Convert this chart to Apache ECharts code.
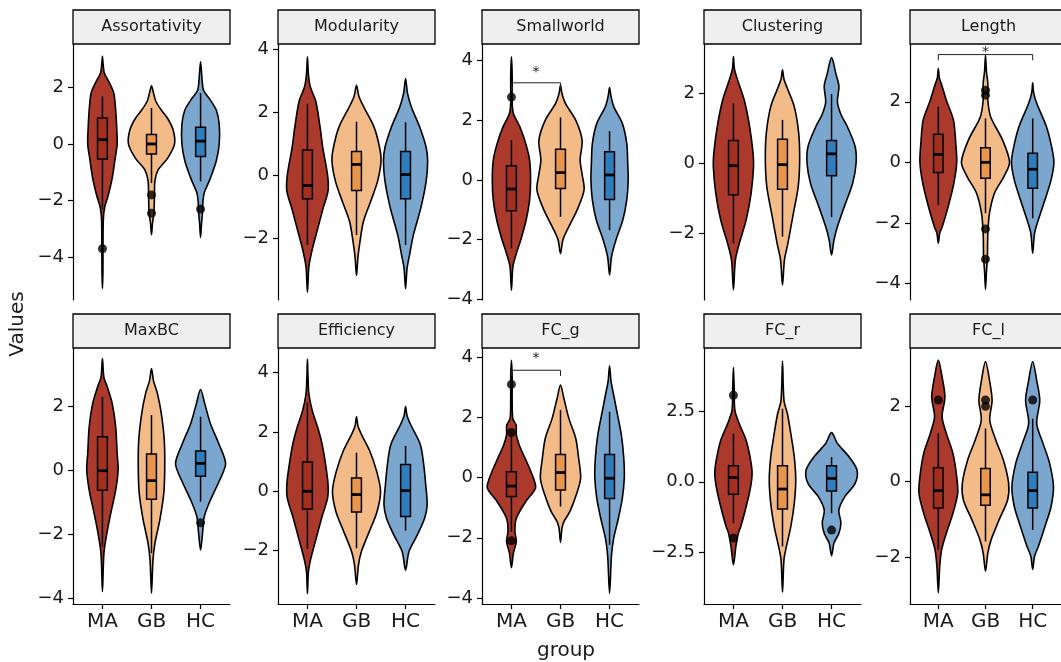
<!DOCTYPE html>
<html><head><meta charset="utf-8">
<script src="https://cdn.jsdelivr.net/npm/echarts@6/dist/echarts.min.js"></script>
<style>html,body{margin:0;padding:0;background:#fff}#c{width:1061px;height:662px}</style>
</head><body><div id="c"></div>
<script>
// ---------------- DATA ----------------
const facets = ['Assortativity','Modularity','Smallworld','Clustering','Length','MaxBC','Efficiency','FC_g','FC_r','FC_l'];
const groups = ['MA','GB','HC'];
const yMin = [-5.51,-3.97,-4.02,-3.91,-4.55,-4.19,-3.80,-4.20,-4.35,-3.25];
const yMax = [3.53,4.17,4.56,3.41,3.91,3.82,4.83,4.31,4.76,3.55];
const yTicks = [[-4,-2,0,2],[-4,-2,0,2,4],[-4,-2,0,2,4],[-2,0,2],[-4,-2,0,2],[-4,-2,0,2],[-2,0,2,4],[-4,-2,0,2,4],[-2.5,0,2.5],[-2,0,2]];
const yTickDecimals = [0,0,0,0,0,0,0,0,1,0];
const xLabel = 'group', yLabel = 'Values';

// violin outlines: per group [value, half-width] from bottom to top
const violinAssortativity = [
  [[-5.1,0],[-4.5,0.01],[-3.5,0.012],[-2.6,0.02],[-2.2,0.05],[-1.8,0.12],[-1.2,0.2],[-0.5,0.26],[0,0.3],[0.6,0.29],[1.2,0.27],[1.8,0.23],[2.2,0.13],[2.5,0.04],[2.8,0.015],[3.1,0]],
  [[-3.2,0],[-2.8,0.02],[-2.4,0.05],[-1.8,0.06],[-1.3,0.07],[-0.9,0.14],[-0.5,0.33],[0,0.47],[0.5,0.44],[0.9,0.33],[1.2,0.2],[1.5,0.09],[1.8,0.04],[2.05,0]],
  [[-3.3,0],[-2.8,0.02],[-2.4,0.04],[-2.0,0.05],[-1.7,0.08],[-1.25,0.19],[-0.6,0.32],[0,0.38],[0.7,0.38],[1.2,0.32],[1.6,0.18],[1.9,0.06],[2.3,0.03],[2.9,0]]
];
const violinModularity = [
  [[-3.72,0],[-3.3,0.015],[-2.9,0.03],[-2.35,0.1],[-1.7,0.21],[-1.05,0.32],[-0.5,0.42],[0,0.41],[0.9,0.31],[1.5,0.26],[2.35,0.17],[2.8,0.06],[3.2,0.02],[3.76,0]],
  [[-3.19,0],[-2.6,0.03],[-2.12,0.07],[-1.48,0.14],[-0.83,0.29],[-0.19,0.43],[0.45,0.5],[0.88,0.47],[1.52,0.36],[2.16,0.15],[2.5,0.05],[2.86,0]],
  [[-3.61,0],[-2.97,0.03],[-2.55,0.08],[-1.9,0.16],[-1.05,0.31],[-0.19,0.42],[0.45,0.45],[0.88,0.42],[1.52,0.29],[2.16,0.12],[2.6,0.04],[3.07,0]]
];
const violinSmallworld = [
  [[-3.69,0],[-2.9,0.03],[-2.46,0.1],[-2.01,0.19],[-1.34,0.3],[-0.67,0.37],[0,0.39],[0.67,0.37],[1.23,0.29],[1.79,0.17],[2.23,0.04],[2.6,0.015],[3.5,0.015],[4.13,0]],
  [[-2.46,0],[-2.0,0.05],[-1.56,0.17],[-1.0,0.34],[-0.34,0.48],[0.2,0.44],[0.67,0.4],[1.34,0.44],[2.01,0.31],[2.57,0.1],[2.9,0.03],[3.18,0]],
  [[-3.18,0],[-2.57,0.04],[-2.01,0.13],[-1.34,0.27],[-0.67,0.35],[0,0.38],[0.56,0.37],[1.23,0.35],[1.9,0.26],[2.46,0.085],[2.8,0.03],[3.1,0]]
];
const violinClustering = [
  [[-3.62,0],[-2.76,0.04],[-2.29,0.12],[-1.62,0.26],[-0.86,0.36],[-0.1,0.41],[0.29,0.4],[1.05,0.33],[1.81,0.22],[2.38,0.085],[2.7,0.02],[3.05,0]],
  [[-3.48,0],[-2.76,0.04],[-2.29,0.11],[-1.52,0.21],[-0.67,0.32],[0.1,0.35],[0.86,0.33],[1.62,0.24],[2.14,0.1],[2.4,0.03],[2.67,0]],
  [[-2.62,0],[-2.19,0.05],[-1.81,0.12],[-1.24,0.26],[-0.57,0.43],[0,0.5],[0.48,0.48],[1.05,0.32],[1.4,0.19],[1.75,0.12],[2.2,0.15],[2.55,0.09],[3.02,0]]
];
const violinLength = [
  [[-2.67,0],[-2.34,0.03],[-2.12,0.085],[-1.46,0.21],[-0.69,0.33],[0,0.39],[0.63,0.37],[1.4,0.32],[2.05,0.17],[2.49,0.085],[2.8,0.02],[3.1,0]],
  [[-4.2,0],[-3.6,0.02],[-3.16,0.04],[-2.34,0.05],[-1.68,0.085],[-1.02,0.19],[-0.47,0.39],[0,0.51],[0.74,0.36],[1.5,0.11],[2.05,0.05],[2.6,0.05],[3.0,0.02],[3.54,0]],
  [[-3.0,0],[-2.34,0.04],[-1.9,0.12],[-1.24,0.26],[-0.58,0.39],[0,0.45],[0.52,0.4],[1.18,0.29],[1.95,0.085],[2.3,0.02],[2.63,0]]
];
const violinMaxBC = [
  [[-3.8,0],[-2.6,0.03],[-1.98,0.09],[-1.35,0.17],[-0.63,0.27],[0,0.32],[0.52,0.3],[1.35,0.27],[2.08,0.2],[2.6,0.1],[2.9,0.03],[3.49,0]],
  [[-3.85,0],[-2.81,0.03],[-2.29,0.07],[-1.56,0.17],[-0.73,0.25],[0.1,0.27],[0.94,0.26],[1.77,0.2],[2.4,0.12],[2.8,0.04],[3.18,0]],
  [[-2.5,0],[-1.98,0.04],[-1.46,0.075],[-0.94,0.2],[-0.31,0.39],[0.21,0.51],[0.83,0.37],[1.46,0.2],[2.08,0.085],[2.52,0]]
];
const violinEfficiency = [
  [[-3.45,0],[-2.71,0.02],[-2.26,0.07],[-1.58,0.18],[-0.9,0.29],[-0.23,0.41],[0.23,0.42],[0.9,0.37],[1.58,0.3],[2.15,0.21],[2.71,0.1],[3.28,0.03],[3.9,0.01],[4.46,0]],
  [[-3.14,0],[-2.49,0.04],[-2.03,0.1],[-1.36,0.26],[-0.68,0.42],[0,0.49],[0.68,0.41],[1.36,0.27],[1.92,0.1],[2.2,0.03],[2.51,0]],
  [[-2.66,0],[-2.03,0.07],[-1.47,0.24],[-0.9,0.39],[-0.45,0.44],[0.23,0.41],[0.9,0.37],[1.58,0.3],[2.26,0.1],[2.55,0.03],[2.86,0]]
];
const violinFC_g = [
  [[-2.99,0],[-2.51,0.04],[-2.12,0.1],[-1.79,0.07],[-1.35,0.1],[-0.8,0.29],[-0.35,0.49],[-0.02,0.45],[0.53,0.31],[1.08,0.16],[1.42,0.1],[1.75,0.095],[1.95,0.03],[2.5,0.015],[3.3,0.015],[3.9,0]],
  [[-2.15,0],[-1.68,0.03],[-1.46,0.07],[-1.13,0.19],[-0.58,0.32],[-0.02,0.41],[0.64,0.37],[1.31,0.31],[1.97,0.17],[2.63,0.07],[3.08,0]],
  [[-3.84,0],[-2.57,0.04],[-2.01,0.085],[-1.35,0.18],[-0.69,0.26],[-0.02,0.3],[0.64,0.29],[1.42,0.24],[2.19,0.15],[2.74,0.085],[3.2,0.03],[3.72,0]]
];
const violinFC_r = [
  [[-2.95,0],[-2.3,0.05],[-1.83,0.1],[-1.59,0.15],[-0.88,0.26],[-0.18,0.35],[0.29,0.38],[0.77,0.35],[1.47,0.26],[2.06,0.12],[2.54,0.03],[3.3,0.015],[4.07,0]],
  [[-3.93,0],[-2.77,0.03],[-2.3,0.08],[-1.59,0.17],[-0.77,0.24],[0.06,0.27],[0.88,0.24],[1.71,0.17],[2.42,0.1],[2.89,0.03],[4.3,0]],
  [[-2.63,0],[-2.18,0.05],[-1.83,0.15],[-1.47,0.19],[-1.0,0.15],[-0.53,0.27],[-0.06,0.48],[0.41,0.52],[0.88,0.36],[1.36,0.12],[1.75,0]]
];
const violinFC_l = [
  [[-2.95,0],[-2.25,0.03],[-1.81,0.07],[-1.37,0.17],[-0.84,0.31],[-0.31,0.41],[0.13,0.39],[0.75,0.31],[1.28,0.17],[1.72,0.08],[2.25,0.14],[2.78,0.08],[3.23,0]],
  [[-2.38,0],[-1.89,0.05],[-1.54,0.12],[-1.01,0.29],[-0.48,0.47],[-0.04,0.49],[0.57,0.38],[1.1,0.22],[1.63,0.09],[2.16,0.14],[2.69,0.085],[3.19,0]],
  [[-2.33,0],[-1.98,0.04],[-1.72,0.12],[-1.19,0.26],[-0.66,0.39],[-0.13,0.44],[0.48,0.36],[1.01,0.22],[1.54,0.085],[2.16,0.15],[2.69,0.085],[3.19,0]]
];

// boxplots: [lower whisker, Q1, median, Q3, upper whisker] for MA, GB, HC
const boxAssortativity = [[-2.3,-0.53,0.15,0.92,1.68],[-1.38,-0.35,0.0,0.33,1.27],[-1.32,-0.44,0.1,0.59,1.8]];
const boxModularity    = [[-2.22,-0.75,-0.33,0.8,2.27],[-1.9,-0.49,0.34,0.75,1.7],[-2.22,-0.75,0.02,0.75,1.68]];
const boxSmallworld    = [[-2.29,-1.03,-0.3,0.48,1.34],[-1.23,-0.28,0.25,1.03,2.1],[-1.68,-0.65,0.17,0.95,1.64]];
const boxClustering    = [[-2.29,-0.9,-0.07,0.65,1.71],[-2.1,-0.74,-0.04,0.69,1.24],[-1.54,-0.36,0.27,0.65,1.98]];
const boxLength        = [[-1.41,-0.34,0.26,0.93,1.84],[-1.68,-0.53,0.0,0.48,1.45],[-1.85,-0.86,-0.23,0.3,1.45]];
const boxMaxBC         = [[-2.4,-0.63,-0.02,1.04,2.29],[-2.6,-0.91,-0.33,0.5,1.72],[-0.99,-0.19,0.21,0.6,1.67]];
const boxEfficiency    = [[-1.94,-0.6,0.0,0.99,2.99],[-1.92,-0.7,-0.11,0.45,1.3],[-1.33,-0.85,0.02,0.9,1.53]];
const boxFC_g          = [[-1.8,-0.63,-0.28,0.2,1.42],[-0.96,-0.41,0.17,0.77,2.25],[-2.23,-0.69,-0.02,0.77,2.19]];
const boxFC_r          = [[-1.47,-0.44,0.15,0.57,1.71],[-2.3,-0.97,-0.26,0.57,2.6],[-1.12,-0.33,0.12,0.57,0.88]];
const boxFC_l          = [[-1.81,-0.7,-0.24,0.37,1.28],[-1.59,-0.63,-0.35,0.35,1.41],[-1.28,-0.7,-0.24,0.25,1.67]];

// outliers: [facet index, group index, value]
const outliers = [
  [0,0,-3.7],[0,1,-1.8],[0,1,-2.45],[0,2,-2.3],
  [2,0,2.78],
  [4,1,2.38],[4,1,2.22],[4,1,-2.2],[4,1,-3.2],
  [5,2,-1.65],
  [7,0,3.1],[7,0,1.5],[7,0,-2.1],
  [8,0,3.08],[8,0,-2.0],[8,2,-1.72],
  [9,0,2.17],[9,1,2.17],[9,1,2.0],[9,2,2.17]
];
// significance brackets: [facet, from group, to group, bar value, tip value, star value, label]
const brackets = [
  [2,0,1,3.26,3.0,3.62,'*'],
  [4,0,2,3.56,3.37,3.62,'*'],
  [7,0,1,3.57,3.38,3.95,'*']
];

const violins = [violinAssortativity,violinModularity,violinSmallworld,violinClustering,violinLength,violinMaxBC,violinEfficiency,violinFC_g,violinFC_r,violinFC_l];
const boxes = [boxAssortativity,boxModularity,boxSmallworld,boxClustering,boxLength,boxMaxBC,boxEfficiency,boxFC_g,boxFC_r,boxFC_l];

// ---------------- STYLE / LAYOUT ----------------
const violinColors = ['#AB3A2C','#F2BB87','#7BA7CF'];
const boxColors = ['#A3301F','#E8964D','#2F7DBB'];
const colLeft = [73,278,482,704,910];
const rowTop = [44,348];
const panelW = 157, panelH = 256, stripH = 34;
const FONT = 'DejaVu Sans';
const TXT = '#1a1a1a';

const fmt = (v, d) => (v < 0 ? '\u2212' : '') + Math.abs(v).toFixed(d);

const grid = [], xAxis = [], yAxis = [], series = [], graphic = [];

facets.forEach((name, i) => {
  const r = Math.floor(i / 5), c = i % 5;
  const bottomRow = r === 1;
  grid.push({left: colLeft[c], top: rowTop[r], width: panelW, height: panelH, containLabel: false});
  xAxis.push({
    gridIndex: i, type: 'value', min: 0.4, max: 3.6, show: bottomRow,
    splitLine: {show: false},
    axisLine: {show: bottomRow, onZero: false, lineStyle: {color: '#000', width: 1.2}},
    axisTick: {show: bottomRow, customValues: [1,2,3], length: 5, lineStyle: {color: '#000', width: 1.2}},
    axisLabel: {show: bottomRow, customValues: [1,2,3], formatter: v => groups[Math.round(v) - 1],
      fontFamily: FONT, fontSize: 20, color: TXT, margin: 8}
  });
  yAxis.push({
    gridIndex: i, type: 'value', min: yMin[i], max: yMax[i],
    splitLine: {show: false},
    axisLine: {show: true, onZero: false, lineStyle: {color: '#000', width: 1.2}},
    axisTick: {show: true, customValues: yTicks[i], length: 5, lineStyle: {color: '#000', width: 1.2}},
    axisLabel: {customValues: yTicks[i], formatter: v => fmt(v, yTickDecimals[i]),
      fontFamily: FONT, fontSize: 18, color: TXT, margin: 9}
  });

  // violins
  series.push({
    type: 'custom', xAxisIndex: i, yAxisIndex: i, z: 2,
    data: groups.map((g, j) => [j + 1, 0]),
    encode: {x: 0, y: 1},
    renderItem: (params, api) => {
      const j = params.dataIndex, x0 = j + 1, pts = violins[i][j];
      const right = pts.map(p => api.coord([x0 + p[1], p[0]]));
      const left = pts.slice(1, -1).reverse().map(p => api.coord([x0 - p[1], p[0]]));
      return {type: 'polygon', shape: {points: right.concat(left), smooth: 0.3},
        style: {fill: violinColors[j], stroke: '#000', lineWidth: 1.6}};
    }
  });
  // boxplots
  series.push({
    type: 'custom', xAxisIndex: i, yAxisIndex: i, z: 3,
    data: groups.map((g, j) => [j + 1, boxes[i][j][2]]),
    encode: {x: 0, y: 1},
    renderItem: (params, api) => {
      const j = params.dataIndex, x0 = j + 1;
      const [lo, q1, md, q3, hi] = boxes[i][j];
      const pLo = api.coord([x0, lo]), pHi = api.coord([x0, hi]);
      const tl = api.coord([x0 - 0.1, q3]), br = api.coord([x0 + 0.1, q1]);
      const mL = api.coord([x0 - 0.1, md]), mR = api.coord([x0 + 0.1, md]);
      return {type: 'group', children: [
        {type: 'line', shape: {x1: pLo[0], y1: pLo[1], x2: pHi[0], y2: pHi[1]}, style: {stroke: '#000', lineWidth: 1.5}},
        {type: 'rect', shape: {x: tl[0], y: tl[1], width: br[0] - tl[0], height: br[1] - tl[1]},
          style: {fill: boxColors[j], stroke: '#000', lineWidth: 1.5}},
        {type: 'line', shape: {x1: mL[0], y1: mL[1], x2: mR[0], y2: mR[1]}, style: {stroke: '#000', lineWidth: 2.8}}
      ]};
    }
  });
  // outliers
  series.push({
    type: 'scatter', xAxisIndex: i, yAxisIndex: i, z: 4,
    symbol: 'circle', symbolSize: 9, itemStyle: {color: '#000'},
    data: outliers.filter(o => o[0] === i).map(o => [o[1] + 1, o[2]]),
    silent: true
  });
  // brackets
  const br = brackets.filter(b => b[0] === i);
  if (br.length) {
    series.push({
      type: 'custom', xAxisIndex: i, yAxisIndex: i, z: 5,
      data: br.map(b => [(b[1] + b[2]) / 2 + 1, b[3]]),
      encode: {x: 0, y: 1},
      renderItem: (params, api) => {
        const b = br[params.dataIndex];
        const a1 = api.coord([b[1] + 1, b[4]]), a2 = api.coord([b[1] + 1, b[3]]);
        const a3 = api.coord([b[2] + 1, b[3]]), a4 = api.coord([b[2] + 1, b[4]]);
        const s = api.coord([(b[1] + b[2]) / 2 + 1, b[5]]);
        return {type: 'group', children: [
          {type: 'polyline', shape: {points: [a1, a2, a3, a4]}, style: {stroke: '#222', lineWidth: 1, fill: null}},
          {type: 'text', x: s[0], y: s[1], style: {text: b[6], fontFamily: FONT, fontSize: 14, fill: '#222', align: 'center', verticalAlign: 'middle'}}
        ]};
      }
    });
  }
  // strip
  graphic.push({type: 'rect', shape: {x: colLeft[c], y: rowTop[r] - stripH, width: panelW, height: stripH},
    style: {fill: '#EFEFEF', stroke: '#000', lineWidth: 1.3}, z: 10});
  graphic.push({type: 'text', x: colLeft[c] + panelW / 2, y: rowTop[r] - stripH / 2,
    style: {text: name, fontFamily: FONT, fontSize: 16, fill: TXT, align: 'center', verticalAlign: 'middle'}, z: 11});
});

graphic.push({type: 'text', x: 18, y: 324, rotation: Math.PI / 2,
  style: {text: yLabel, fontFamily: FONT, fontSize: 20, fill: TXT, align: 'center', verticalAlign: 'middle'}});
graphic.push({type: 'text', x: 566, y: 651,
  style: {text: xLabel, fontFamily: FONT, fontSize: 20, fill: TXT, align: 'center', verticalAlign: 'middle'}});

const chart = echarts.init(document.getElementById('c'), null, {renderer: 'canvas'});
chart.setOption({animation: false, backgroundColor: '#fff', grid, xAxis, yAxis, series, graphic});
</script>
</body></html>
